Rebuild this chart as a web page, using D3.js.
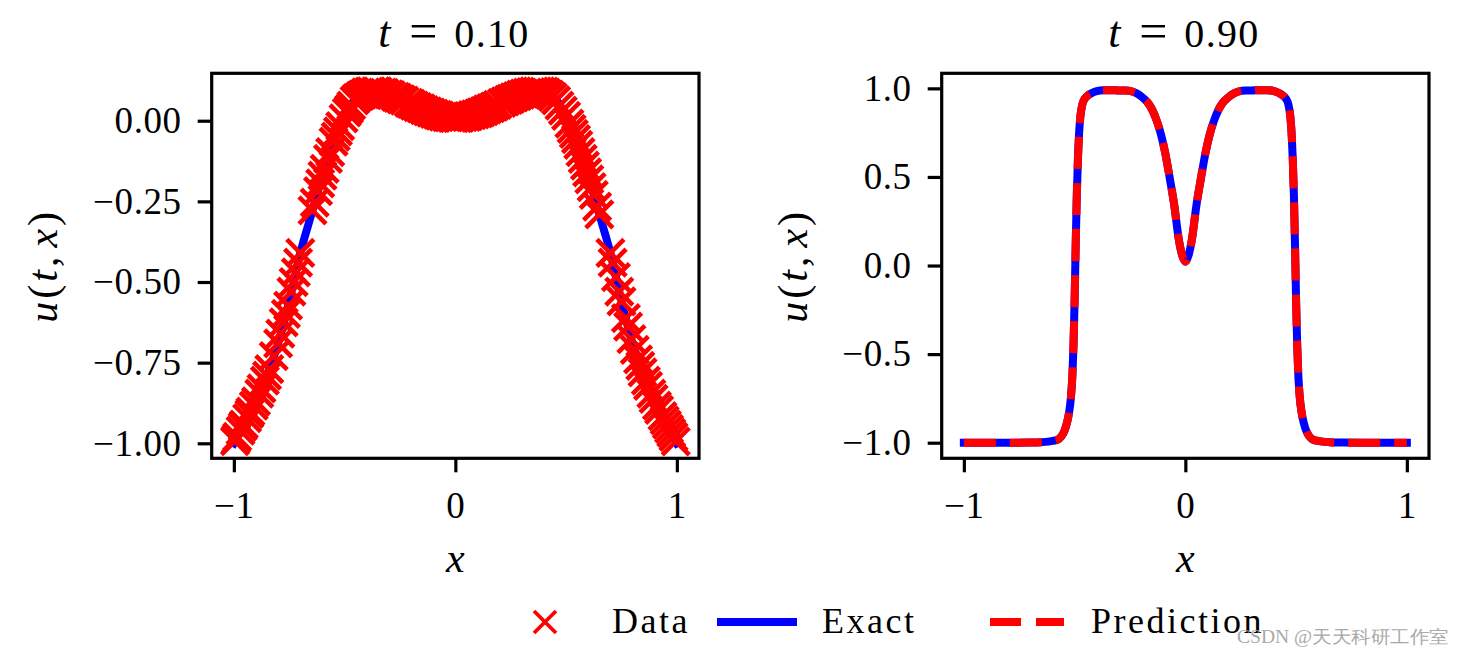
<!DOCTYPE html>
<html><head><meta charset="utf-8">
<script src="https://cdn.jsdelivr.net/npm/d3@7"></script>
<style>
body{margin:0;background:#fff}
svg{display:block}
text{font-family:"Liberation Serif","Times New Roman",serif;fill:#000}
</style>
</head><body>
<svg id="chart" width="1464" height="655"></svg>
<script>
// ---------- data ----------
const panelTitles = ["0.10", "0.90"];
const xTicks = [-1, 0, 1];
const yTicksLeft = [0, -0.25, -0.5, -0.75, -1];
const yTicksRight = [1, 0.5, 0, -0.5, -1];

// exact solution at t = 0.10
const exactX1 = [-1,-0.95,-0.9,-0.85,-0.8,-0.75,-0.7,-0.65,-0.6,-0.55,-0.5,-0.45,-0.4,-0.35,-0.3,-0.25,-0.2,-0.15,-0.1,-0.05,0,
  0.05,0.1,0.15,0.2,0.25,0.3,0.35,0.4,0.45,0.5,0.55,0.6,0.65,0.7,0.75,0.8,0.85,0.9,0.95,1];
const exactU1 = [-1,-0.935,-0.87,-0.79,-0.69,-0.56,-0.41,-0.29,-0.17,-0.065,0.015,0.068,0.090,0.091,0.082,0.068,0.052,0.036,0.022,0.012,0.008,
  0.012,0.022,0.036,0.052,0.068,0.082,0.091,0.090,0.068,0.015,-0.065,-0.17,-0.29,-0.41,-0.56,-0.69,-0.79,-0.87,-0.935,-1];

// training data at t = 0.10
const dataX = [-0.995,-0.99,-0.985,-0.97,-0.96,-0.955,-0.94,-0.93,-0.925,-0.91,-0.9,-0.885,-0.875,-0.86,-0.85,-0.84,-0.82,-0.8,-0.79,-0.775,
  -0.765,-0.755,-0.74,-0.73,-0.72,-0.71,-0.7,-0.645,-0.635,-0.62,-0.61,-0.6,-0.59,-0.575,-0.565,-0.55,-0.54,-0.53,-0.52,-0.505,
  -0.49,-0.48,-0.47,-0.455,-0.445,-0.43,-0.42,-0.405,-0.39,-0.38,-0.36,-0.35,-0.33,-0.32,-0.3,-0.29,-0.27,-0.26,-0.245,-0.23,
  -0.21,-0.2,-0.185,-0.17,-0.155,-0.14,-0.125,-0.11,-0.095,-0.08,-0.07,-0.055,-0.04,-0.03,-0.015,-0.005,0.01,0.02,0.035,0.05,
  0.06,0.075,0.09,0.105,0.115,0.13,0.145,0.16,0.175,0.19,0.21,0.225,0.24,0.25,0.265,0.28,0.295,0.31,0.325,0.34,
  0.355,0.37,0.385,0.4,0.41,0.425,0.44,0.455,0.47,0.485,0.5,0.515,0.525,0.535,0.545,0.555,0.565,0.575,0.585,0.595,
  0.605,0.615,0.625,0.64,0.65,0.7,0.71,0.725,0.74,0.75,0.77,0.78,0.795,0.81,0.825,0.835,0.845,0.86,0.87,0.885,
  0.895,0.91,0.92,0.935,0.945,0.955,0.965,0.975,0.985,0.995];
const dataU = [-0.993,-0.987,-0.98,-0.961,-0.948,-0.942,-0.922,-0.909,-0.902,-0.883,-0.87,-0.846,-0.83,-0.806,-0.79,-0.77,-0.73,-0.69,-0.66,-0.625,
  -0.599,-0.573,-0.53,-0.5,-0.47,-0.44,-0.41,-0.278,-0.254,-0.218,-0.194,-0.17,-0.149,-0.118,-0.097,-0.065,-0.049,-0.033,-0.017,0.007,
  0.026,0.036,0.047,0.063,0.07,0.077,0.081,0.088,0.09,0.091,0.091,0.091,0.087,0.086,0.082,0.079,0.074,0.071,0.066,0.062,
  0.055,0.052,0.047,0.042,0.038,0.033,0.029,0.025,0.021,0.018,0.016,0.013,0.011,0.01,0.009,0.008,0.008,0.009,0.011,0.012,
  0.014,0.017,0.02,0.023,0.026,0.03,0.035,0.039,0.044,0.049,0.055,0.06,0.065,0.068,0.072,0.076,0.081,0.084,0.087,0.089,
  0.091,0.091,0.091,0.09,0.087,0.081,0.073,0.063,0.047,0.031,0.015,-0.009,-0.025,-0.041,-0.057,-0.075,-0.097,-0.118,-0.139,-0.16,
  -0.182,-0.206,-0.23,-0.266,-0.29,-0.41,-0.44,-0.485,-0.53,-0.56,-0.612,-0.638,-0.677,-0.71,-0.74,-0.76,-0.78,-0.806,-0.822,-0.846,
  -0.862,-0.883,-0.896,-0.916,-0.929,-0.942,-0.955,-0.968,-0.98,-0.994];

// exact solution and prediction at t = 0.90
const exactX2 = [-1,-0.9,-0.8,-0.7,-0.65,-0.62,-0.6,-0.58,-0.56,-0.545,-0.535,-0.525,-0.517,-0.51,-0.505,-0.5,-0.495,-0.49,-0.485,-0.48,-0.474,
  -0.465,-0.455,-0.44,-0.42,-0.4,-0.37,-0.33,-0.3,-0.27,-0.24,-0.21,-0.19,-0.17,-0.15,-0.13,-0.11,-0.09,-0.07,-0.05,-0.03,-0.015,0,
  0.015,0.03,0.05,0.07,0.09,0.11,0.13,0.15,0.17,0.19,0.21,0.24,0.27,0.3,0.33,0.37,0.4,0.42,0.44,0.455,0.465,0.474,0.48,0.485,
  0.49,0.495,0.5,0.505,0.51,0.517,0.525,0.535,0.545,0.56,0.58,0.6,0.62,0.65,0.7,0.8,0.9,1];
const exactU2 = [-1,-1,-1,-0.999,-0.997,-0.994,-0.99,-0.985,-0.965,-0.93,-0.89,-0.83,-0.75,-0.62,-0.45,-0.2,0.12,0.4,0.6,0.74,0.84,
  0.91,0.94,0.96,0.975,0.985,0.99,0.99,0.988,0.988,0.982,0.965,0.945,0.92,0.88,0.82,0.74,0.63,0.49,0.34,0.15,0.06,0.022,
  0.06,0.15,0.34,0.49,0.63,0.74,0.82,0.88,0.92,0.945,0.965,0.982,0.988,0.988,0.99,0.99,0.985,0.975,0.96,0.94,0.91,0.84,0.74,0.6,
  0.4,0.12,-0.2,-0.45,-0.62,-0.75,-0.83,-0.89,-0.93,-0.965,-0.985,-0.99,-0.994,-0.997,-0.999,-1,-1,-1];
const predU2 = [-1,-1,-1,-0.999,-0.997,-0.994,-0.99,-0.985,-0.965,-0.93,-0.89,-0.83,-0.75,-0.62,-0.45,-0.2,0.12,0.4,0.6,0.74,0.84,
  0.91,0.94,0.96,0.975,0.985,0.99,0.99,0.988,0.988,0.982,0.965,0.945,0.92,0.88,0.82,0.74,0.63,0.49,0.34,0.15,0.06,0.022,
  0.06,0.15,0.34,0.49,0.63,0.74,0.82,0.88,0.92,0.945,0.965,0.982,0.988,0.988,0.99,0.99,0.985,0.975,0.96,0.94,0.91,0.84,0.74,0.6,
  0.4,0.12,-0.2,-0.45,-0.62,-0.75,-0.83,-0.89,-0.93,-0.965,-0.985,-0.99,-0.994,-0.997,-0.999,-1,-1,-1];

const legendLabels = ["Data", "Exact", "Prediction"];

// ---------- helpers ----------
const zip = (a, b) => a.slice(0, Math.min(a.length, b.length)).map((v, i) => [v, b[i]]);
const svg = d3.select("#chart");
const FONT = '"Liberation Serif","Times New Roman",serif';
const LW = 8;

function styleAxis(g) {
  g.select(".domain").remove();
  g.selectAll(".tick line").attr("stroke", "#000").attr("stroke-width", 3.2);
  g.selectAll(".tick text").attr("fill", "#000").attr("letter-spacing", 0.6);
  g.attr("font-size", 37).attr("font-family", FONT);
}

function drawPanel(p) {
  const g = svg.append("g");
  const x = d3.scaleLinear().domain([-1.1, 1.1]).range([p.x0, p.x1]);
  const y = d3.scaleLinear().domain(p.yDomain).range([p.y1, p.y0]);

  g.append("g").attr("transform", `translate(0,${p.y1})`)
    .call(d3.axisBottom(x).tickValues(xTicks).tickSize(14).tickPadding(19).tickFormat(d3.format("d")))
    .call(styleAxis);
  g.append("g").attr("transform", `translate(${p.x0},0)`)
    .call(d3.axisLeft(y).tickValues(p.yTicks).tickSize(14).tickPadding(16).tickFormat(d3.format(p.fmt)))
    .call(styleAxis);

  const line = d3.line().x(d => x(d[0])).y(d => y(d[1])).curve(d3.curveMonotoneX);

  g.append("path").datum(zip(p.exactX, p.exactU))
    .attr("d", line).attr("fill", "none").attr("stroke", "#0000ff")
    .attr("stroke-width", LW).attr("stroke-linecap", "square").attr("stroke-linejoin", "round");

  if (p.predU) {
    g.append("path").datum(zip(p.exactX, p.predU))
      .attr("d", line).attr("fill", "none").attr("stroke", "#ff0000")
      .attr("stroke-width", LW).attr("stroke-dasharray", "32,14").attr("stroke-linejoin", "round");
  }
  if (p.dataX) {
    g.append("g").selectAll("path").data(zip(p.dataX, p.dataU)).join("path")
      .attr("transform", d => `translate(${x(d[0])},${y(d[1])})`)
      .attr("d", "M-13.5,-13.5L13.5,13.5M-13.5,13.5L13.5,-13.5")
      .attr("stroke", "#ff0000").attr("stroke-width", 4.6).attr("fill", "none");
  }

  // spines
  g.append("rect").attr("x", p.x0).attr("y", p.y0)
    .attr("width", p.x1 - p.x0).attr("height", p.y1 - p.y0)
    .attr("fill", "none").attr("stroke", "#000").attr("stroke-width", 3.2);

  // title  t = 0.10
  const cx = (p.x0 + p.x1) / 2;
  g.append("text").attr("x", cx - 77).attr("y", 47).attr("font-size", 44)
    .attr("font-style", "italic").text("t");
  g.append("text").attr("x", cx - 32).attr("y", 48).attr("font-size", 50)
    .attr("text-anchor", "middle").text("=");
  g.append("text").attr("x", cx - 1).attr("y", 47).attr("font-size", 40)
    .attr("letter-spacing", 1.3).text(p.title);

  // x label
  g.append("text").attr("x", cx).attr("y", 572).attr("font-size", 42)
    .attr("font-style", "italic").attr("text-anchor", "middle").text("x");

  // y label u(t, x)
  const yl = g.append("text")
    .attr("transform", `translate(${p.ylabX},${(p.y0 + p.y1) / 2}) rotate(-90)`)
    .attr("text-anchor", "middle").attr("font-size", 42).attr("letter-spacing", 3);
  yl.append("tspan").attr("font-style", "italic").text("u");
  yl.append("tspan").text("(");
  yl.append("tspan").attr("font-style", "italic").text("t");
  yl.append("tspan").text(",");
  yl.append("tspan").attr("font-style", "italic").attr("dx", 6).text("x");
  yl.append("tspan").text(")");
}

drawPanel({
  x0: 211.7, x1: 699, y0: 73.3, y1: 458.3,
  yDomain: [-1.0465, 0.147], yTicks: yTicksLeft, fmt: ".2f",
  exactX: exactX1, exactU: exactU1, dataX: dataX, dataU: dataU,
  title: panelTitles[0], ylabX: 57
});
drawPanel({
  x0: 941.7, x1: 1429, y0: 73.3, y1: 458.3,
  yDomain: [-1.088, 1.085], yTicks: yTicksRight, fmt: ".1f",
  exactX: exactX2, exactU: exactU2, predU: predU2,
  title: panelTitles[1], ylabX: 807
});

// ---------- legend ----------
const lg = svg.append("g");
const ly = 622;
lg.append("path").attr("transform", `translate(545,${ly})`)
  .attr("d", "M-11,-11L11,11M-11,11L11,-11")
  .attr("stroke", "#ff0000").attr("stroke-width", 3.8).attr("fill", "none");
lg.append("line").attr("x1", 717).attr("x2", 797).attr("y1", ly).attr("y2", ly)
  .attr("stroke", "#0000ff").attr("stroke-width", LW);
lg.append("line").attr("x1", 990).attr("x2", 1064).attr("y1", ly).attr("y2", ly)
  .attr("stroke", "#ff0000").attr("stroke-width", LW).attr("stroke-dasharray", "31,15");
const lx = [612, 822, 1091];
legendLabels.forEach((t, i) => {
  lg.append("text").attr("x", lx[i]).attr("y", 633).attr("font-size", 36)
    .attr("letter-spacing", 2.5).text(t);
});

// watermark
svg.append("text").attr("x", 1237).attr("y", 643)
  .attr("font-family", '"Noto Sans CJK SC","Noto Sans",sans-serif')
  .attr("font-size", 18).attr("textLength", 212).attr("lengthAdjust", "spacingAndGlyphs")
  .style("fill", "#a0a0a0").attr("opacity", 0.9)
  .text("CSDN @天天科研工作室");
</script>
</body></html>
